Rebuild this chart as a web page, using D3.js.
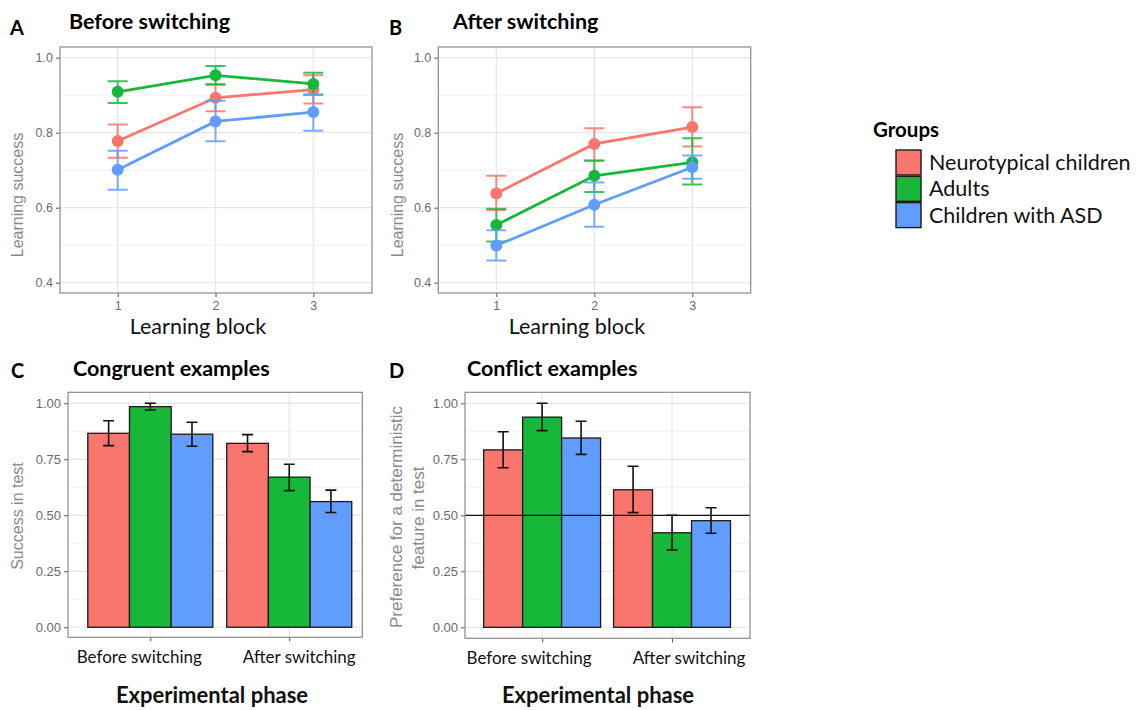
<!DOCTYPE html>
<html>
<head>
<meta charset="utf-8">
<script src="https://cdn.jsdelivr.net/npm/d3@7"></script>
<style>
  body { margin: 0; background: #fff; }
  text { font-family: Lato, "Open Sans", sans-serif; }
  .tick text, .ylab { font-family: "Liberation Sans", Arial, sans-serif; }
</style>
</head>
<body>
<svg id="chart" width="1136" height="710"></svg>
<script>
var groups = ["Neurotypical children", "Adults", "Children with ASD"],
    colors = ["#F8766D", "#17B83A", "#619CFF"],
    blocks = [1, 2, 3],
    phases = ["Before switching", "After switching"],
    lineTicks = [0.4, 0.6, 0.8, 1.0],
    barTicks = [0, 0.25, 0.5, 0.75, 1];

// A: before switching, rows = groups, columns = learning blocks
var beforeMean = [[0.778, 0.893, 0.915], [0.909, 0.953, 0.930], [0.701, 0.830, 0.855]],
    beforeLow  = [[0.733, 0.857, 0.878], [0.879, 0.928, 0.901], [0.648, 0.777, 0.805]],
    beforeHigh = [[0.822, 0.930, 0.953], [0.937, 0.978, 0.960], [0.752, 0.885, 0.902]];

// B: after switching
var afterMean = [[0.638, 0.770, 0.815], [0.554, 0.685, 0.721], [0.499, 0.608, 0.708]],
    afterLow  = [[0.594, 0.725, 0.763], [0.510, 0.642, 0.662], [0.459, 0.549, 0.677]],
    afterHigh = [[0.685, 0.812, 0.868], [0.597, 0.726, 0.785], [0.540, 0.667, 0.739]];

// C: congruent examples, rows = groups, columns = phases
var congMean = [[0.866, 0.821], [0.985, 0.670], [0.862, 0.561]],
    congLow  = [[0.811, 0.784], [0.970, 0.610], [0.808, 0.512]],
    congHigh = [[0.922, 0.860], [1.000, 0.728], [0.915, 0.612]];

// D: conflict examples
var confMean = [[0.792, 0.614], [0.938, 0.422], [0.845, 0.476]],
    confLow  = [[0.712, 0.512], [0.878, 0.345], [0.772, 0.420]],
    confHigh = [[0.873, 0.719], [1.000, 0.500], [0.920, 0.534]];

var svg = d3.select("#chart");

function frame(p) {
  var g = svg.append("g");
  var x = d3.scaleLinear().domain(p.xDomain).range([p.left, p.right]);
  var y = d3.scaleLinear().domain(p.yDomain).range([p.bottom, p.top]);

  g.selectAll(".minor").data(p.minor).join("line")
    .attr("x1", p.left).attr("x2", p.right)
    .attr("y1", y).attr("y2", y)
    .attr("stroke", "#EFEFEF").attr("stroke-width", 0.8);
  g.selectAll(".major").data(p.yTicks).join("line")
    .attr("x1", p.left).attr("x2", p.right)
    .attr("y1", y).attr("y2", y)
    .attr("stroke", "#E8E8E8").attr("stroke-width", 1.3);
  g.selectAll(".vmajor").data(p.xTicks).join("line")
    .attr("x1", x).attr("x2", x)
    .attr("y1", p.top).attr("y2", p.bottom)
    .attr("stroke", "#E8E8E8").attr("stroke-width", 1.3);

  var ya = g.append("g").attr("transform", "translate(" + p.left + ",0)")
    .call(d3.axisLeft(y).tickValues(p.yTicks).tickSize(4).tickPadding(3).tickFormat(p.yFormat));
  ya.select(".domain").remove();
  ya.selectAll("line").attr("stroke", "#555");
  ya.selectAll("text").attr("fill", "#6b6b6b").style("font-size", p.tickSize + "px");

  var xa = g.append("g").attr("transform", "translate(0," + p.bottom + ")")
    .call(d3.axisBottom(x).tickValues(p.xTicks).tickSize(4).tickPadding(4).tickFormat(p.xFormat));
  xa.select(".domain").remove();
  xa.selectAll("line").attr("stroke", "#555");
  xa.selectAll("text").attr("fill", "#6b6b6b").style("font-size", p.tickSize + "px");

  return {g: g, x: x, y: y};
}

function border(p) {
  svg.append("rect")
    .attr("x", p.left).attr("y", p.top)
    .attr("width", p.right - p.left).attr("height", p.bottom - p.top)
    .attr("fill", "none").attr("stroke", "#8a8a8a").attr("stroke-width", 1.2);
}

function labels(p) {
  svg.append("text").attr("x", p.letter[0]).attr("y", p.letter[1])
    .attr("font-weight", "bold").attr("font-size", 20).text(p.letterText);
  svg.append("text").attr("x", p.title[0]).attr("y", p.title[1])
    .attr("font-weight", "bold").attr("font-size", 21.5).text(p.titleText);
  p.yLabel.forEach(function(l) {
    svg.append("text").attr("class", "ylab")
      .attr("transform", "translate(" + l.x + "," + l.y + ") rotate(-90)")
      .attr("text-anchor", "middle").attr("fill", "#8a8a8a")
      .attr("font-size", p.yLabelSize).text(l.text);
  });
  svg.append("text").attr("x", p.xLabel[0]).attr("y", p.xLabel[1])
    .attr("text-anchor", "middle").attr("font-size", p.xLabelBold ? 22 : 21.5)
    .attr("font-weight", p.xLabelBold ? "bold" : "normal")
    .attr("fill", "#111").text(p.xLabelText);
}

function linePanel(p, mean, low, high) {
  var f = frame(p), x = f.x, y = f.y;
  border(p);
  groups.forEach(function(name, gi) {
    var pts = blocks.map(function(b, i) { return {b: b, m: mean[gi][i], lo: low[gi][i], hi: high[gi][i]}; });
    var c = colors[gi], gg = svg.append("g");
    gg.selectAll(".eb").data(pts).join("path")
      .attr("d", function(d) {
        return "M" + (x(d.b) - 10) + "," + y(d.hi) + "H" + (x(d.b) + 10) +
               "M" + x(d.b) + "," + y(d.hi) + "V" + y(d.lo) +
               "M" + (x(d.b) - 10) + "," + y(d.lo) + "H" + (x(d.b) + 10);
      })
      .attr("fill", "none").attr("stroke", c).attr("stroke-width", 2).attr("opacity", 0.85);
    gg.append("path").datum(pts)
      .attr("d", d3.line().x(function(d) { return x(d.b); }).y(function(d) { return y(d.m); }))
      .attr("fill", "none").attr("stroke", c).attr("stroke-width", 2.8);
    gg.selectAll("circle").data(pts).join("circle")
      .attr("cx", function(d) { return x(d.b); }).attr("cy", function(d) { return y(d.m); })
      .attr("r", 6).attr("fill", c);
  });
  labels(p);
}

function barPanel(p, mean, low, high) {
  var f = frame(p), x = f.x, y = f.y;
  var w = 0.3;
  var bars = [];
  groups.forEach(function(name, gi) {
    phases.forEach(function(ph, pi) {
      bars.push({gi: gi, c: pi + 1 + (gi - 1) * w, m: mean[gi][pi], lo: low[gi][pi], hi: high[gi][pi]});
    });
  });
  var gg = svg.append("g");
  gg.selectAll("rect").data(bars).join("rect")
    .attr("x", function(d) { return x(d.c - w / 2); })
    .attr("width", function(d) { return x(d.c + w / 2) - x(d.c - w / 2); })
    .attr("y", function(d) { return y(d.m); })
    .attr("height", function(d) { return y(0) - y(d.m); })
    .attr("fill", function(d) { return colors[d.gi]; })
    .attr("stroke", "#1a1a1a").attr("stroke-width", 1.3);
  if (p.refLine != null) {
    gg.append("line").attr("x1", p.left).attr("x2", p.right)
      .attr("y1", y(p.refLine)).attr("y2", y(p.refLine))
      .attr("stroke", "#111").attr("stroke-width", 1.3);
  }
  gg.selectAll(".eb").data(bars).join("path")
    .attr("d", function(d) {
      var cx = x(d.c);
      return "M" + (cx - 5.5) + "," + y(d.hi) + "H" + (cx + 5.5) +
             "M" + cx + "," + y(d.hi) + "V" + y(d.lo) +
             "M" + (cx - 5.5) + "," + y(d.lo) + "H" + (cx + 5.5);
    })
    .attr("fill", "none").attr("stroke", "#111").attr("stroke-width", 1.6);
  border(p);
  // phase labels under the axis
  phases.forEach(function(ph, pi) {
    svg.append("text").attr("x", x(pi + 1) + p.phaseShift[pi]).attr("y", p.bottom + 26)
      .attr("text-anchor", "middle").attr("font-size", 17).attr("fill", "#111").text(ph);
  });
  labels(p);
}

var noFmt = function() { return ""; };

linePanel({
  left: 60, right: 372, top: 47, bottom: 293,
  xDomain: [0.41, 3.6], yDomain: [0.3725, 1.0285],
  xTicks: blocks, yTicks: lineTicks, minor: [0.5, 0.7, 0.9],
  yFormat: d3.format(".1f"), xFormat: d3.format("d"), tickSize: 12.5,
  letter: [10, 35], letterText: "A", title: [69, 29], titleText: "Before switching",
  yLabel: [{x: 23, y: 195, text: "Learning success"}], yLabelSize: 16,
  xLabel: [198, 334], xLabelText: "Learning block"
}, beforeMean, beforeLow, beforeHigh);

linePanel({
  left: 438.3, right: 750.7, top: 47, bottom: 293,
  xDomain: [0.408, 3.596], yDomain: [0.3725, 1.0285],
  xTicks: blocks, yTicks: lineTicks, minor: [0.5, 0.7, 0.9],
  yFormat: d3.format(".1f"), xFormat: d3.format("d"), tickSize: 12.5,
  letter: [389, 35], letterText: "B", title: [453, 29], titleText: "After switching",
  yLabel: [{x: 403, y: 195, text: "Learning success"}], yLabelSize: 16,
  xLabel: [577, 334], xLabelText: "Learning block"
}, afterMean, afterLow, afterHigh);

barPanel({
  left: 68, right: 362.3, top: 392.3, bottom: 637.3,
  xDomain: [0.4075, 2.526], yDomain: [-0.045, 1.049],
  xTicks: [1, 2], yTicks: barTicks, minor: [0.125, 0.375, 0.625, 0.875],
  yFormat: d3.format(".2f"), xFormat: noFmt, tickSize: 13,
  phaseShift: [-11, 10],
  letter: [11, 378], letterText: "C", title: [73, 376], titleText: "Congruent examples",
  yLabel: [{x: 23, y: 516, text: "Success in test"}], yLabelSize: 16,
  xLabel: [212, 703], xLabelBold: true, xLabelText: "Experimental phase"
}, congMean, congLow, congHigh);

barPanel({
  left: 465, right: 750, top: 392.3, bottom: 638.3,
  xDomain: [0.4065, 2.6], yDomain: [-0.049, 1.049],
  xTicks: [1, 2], yTicks: barTicks, minor: [0.125, 0.375, 0.625, 0.875],
  yFormat: d3.format(".2f"), xFormat: noFmt, tickSize: 13,
  phaseShift: [-13, 17], refLine: 0.5,
  letter: [389, 378], letterText: "D", title: [467, 376], titleText: "Conflict examples",
  yLabel: [{x: 402, y: 517, text: "Preference for a deterministic"},
           {x: 424, y: 518, text: "feature in test"}], yLabelSize: 17,
  xLabel: [598, 703], xLabelBold: true, xLabelText: "Experimental phase"
}, confMean, confLow, confHigh);

// legend
var leg = svg.append("g").attr("transform", "translate(873,0)");
leg.append("text").attr("x", 0).attr("y", 137).attr("font-weight", "bold")
  .attr("font-size", 20.5).text("Groups");
leg.selectAll("rect").data(groups).join("rect")
  .attr("x", 23).attr("y", function(d, i) { return 150 + i * 26.3; })
  .attr("width", 25).attr("height", 25)
  .attr("fill", function(d, i) { return colors[i]; })
  .attr("stroke", "#1a1a1a").attr("stroke-width", 1.4);
leg.selectAll(".lt").data(groups).join("text")
  .attr("x", 56).attr("y", function(d, i) { return 170 + i * 26.3; })
  .attr("font-size", 21.5).attr("fill", "#111").text(function(d) { return d; });
</script>
</body>
</html>
